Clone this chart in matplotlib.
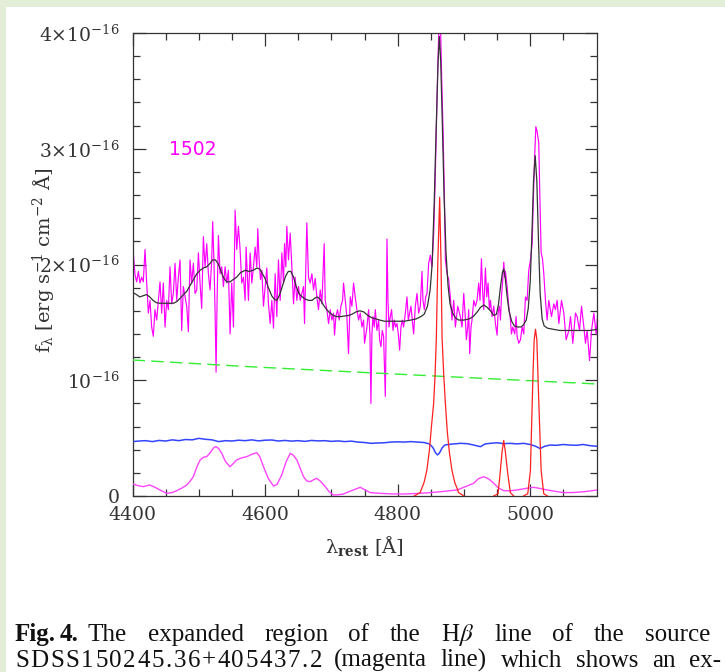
import numpy as np
import matplotlib
matplotlib.use('Agg')
import matplotlib.pyplot as plt

plt.rcParams['font.family'] = 'DejaVu Serif'
plt.rcParams['mathtext.fontset'] = 'dejavuserif'

# flux in units of 1e-16 erg/s/cm2/A
UNIT = 1e-16

# observed spectrum (magenta)
spec_wave = [4400.0, 4401.2, 4403.8, 4406.3, 4408.8, 4411.3, 4413.8, 4416.3, 4418.9, 4421.4,
             4423.9, 4426.4, 4428.9, 4431.4, 4433.9, 4436.5, 4439.0, 4441.5, 4444.0, 4446.5,
             4449.1, 4451.6, 4454.1, 4456.6, 4459.1, 4461.6, 4464.2, 4466.7, 4469.2, 4471.7,
             4474.2, 4476.7, 4479.3, 4481.8, 4484.3, 4486.8, 4489.3, 4491.8, 4494.4, 4496.9,
             4499.4, 4501.9, 4504.4, 4506.9, 4509.5, 4512.0, 4514.5, 4517.0, 4519.5, 4521.0,
             4523.1, 4524.6, 4526.1, 4527.6, 4529.6, 4532.1, 4534.6, 4537.2, 4539.7, 4542.2,
             4544.7, 4547.2, 4549.7, 4552.3, 4554.8, 4557.3, 4559.8, 4562.3, 4564.8, 4567.4,
             4569.9, 4571.4, 4574.9, 4577.5, 4580.0, 4582.5, 4585.0, 4587.5, 4589.0, 4591.0,
             4593.1, 4595.1, 4597.6, 4600.1, 4602.6, 4605.1, 4607.7, 4610.2, 4612.7, 4615.2,
             4617.7, 4620.2, 4622.8, 4625.3, 4627.8, 4629.3, 4631.3, 4632.8, 4635.3, 4637.9,
             4640.4, 4642.9, 4645.4, 4647.9, 4650.4, 4653.0, 4655.5, 4658.0, 4659.5, 4661.5,
             4663.0, 4665.5, 4668.1, 4670.6, 4673.1, 4675.6, 4678.1, 4680.6, 4683.2, 4685.7,
             4689.2, 4690.7, 4693.2, 4695.8, 4698.3, 4700.8, 4703.3, 4704.8, 4706.8, 4709.3,
             4711.9, 4714.4, 4716.9, 4718.4, 4720.9, 4723.4, 4725.9, 4728.5, 4731.0, 4733.5,
             4736.0, 4738.5, 4741.1, 4743.6, 4746.1, 4748.6, 4750.1, 4753.7, 4756.2, 4758.2,
             4759.7, 4761.2, 4762.7, 4764.7, 4766.3, 4768.8, 4771.3, 4772.8, 4774.8, 4776.8,
             4778.8, 4781.4, 4782.9, 4783.9, 4785.4, 4786.9, 4788.9, 4790.9, 4793.0, 4795.0,
             4797.0, 4799.0, 4801.0, 4803.0, 4805.0, 4807.0, 4809.0, 4811.6, 4814.1, 4816.1,
             4818.1, 4820.1, 4822.1, 4824.1, 4826.7, 4829.2, 4831.7, 4834.2, 4836.7, 4838.2,
             4840.3, 4842.3, 4844.3, 4846.8, 4849.3, 4851.8, 4854.4, 4856.5, 4858.4, 4860.5,
             4862.5, 4864.5, 4866.5, 4868.5, 4870.5, 4872.0, 4874.5, 4877.0, 4879.5, 4882.0,
             4884.6, 4887.1, 4890.6, 4894.6, 4897.1, 4899.7, 4901.7, 4903.7, 4905.7, 4907.2,
             4908.7, 4910.7, 4912.2, 4914.8, 4917.3, 4919.8, 4922.3, 4924.3, 4926.4, 4928.4,
             4929.9, 4932.4, 4934.4, 4936.4, 4938.4, 4939.9, 4942.5, 4945.0, 4947.5, 4950.0,
             4951.5, 4953.5, 4955.1, 4956.6, 4958.6, 4960.1, 4961.6, 4962.6, 4965.1, 4967.6,
             4970.2, 4971.7, 4973.7, 4976.7, 4978.7, 4980.2, 4982.7, 4985.3, 4987.8, 4990.3,
             4992.8, 4995.3, 4997.8, 5000.4, 5002.9, 5004.4, 5006.5, 5008.5, 5010.4, 5012.9,
             5014.5, 5016.5, 5018.5, 5020.5, 5023.0, 5025.5, 5028.0, 5032.1, 5035.6, 5038.1,
             5040.6, 5043.2, 5047.2, 5050.7, 5054.2, 5058.3, 5060.8, 5064.3, 5068.3, 5070.8,
             5074.4, 5077.4, 5080.9, 5083.4, 5085.9, 5089.5, 5092.5, 5096.0, 5099.5, 5101.5]
spec_flux = [1.98, 2.10, 1.91, 1.85, 1.94, 1.84, 1.89, 1.85, 2.13, 1.84,
             1.58, 1.69, 1.46, 1.38, 1.61, 1.52, 1.69, 1.85, 1.58, 1.84,
             1.46, 1.69, 1.61, 1.98, 1.66, 1.75, 2.01, 1.69, 1.89, 2.04,
             1.43, 1.81, 1.72, 1.64, 1.42, 2.04, 1.84, 2.01, 1.75, 1.78,
             2.10, 1.84, 1.62, 2.24, 1.98, 2.18, 1.92, 1.78, 2.04, 2.37,
             1.98, 1.58, 1.07, 1.69, 2.25, 1.92, 1.98, 1.81, 1.98, 1.84,
             1.95, 1.40, 1.84, 1.46, 2.47, 2.13, 2.33, 2.13, 1.84, 1.89,
             1.69, 2.15, 1.69, 2.10, 1.84, 1.98, 2.15, 1.98, 2.31, 2.04,
             1.87, 1.95, 1.64, 1.81, 1.97, 1.66, 1.49, 1.69, 1.45, 1.92,
             1.55, 2.04, 1.69, 2.10, 1.84, 2.18, 1.98, 2.33, 2.04, 2.27,
             1.98, 1.66, 1.89, 1.69, 1.81, 1.69, 1.75, 1.81, 1.49, 1.98,
             2.36, 1.89, 1.84, 1.92, 1.78, 1.88, 1.72, 1.61, 1.78, 1.66,
             2.18, 1.69, 1.61, 1.49, 1.61, 1.52, 1.58, 1.39, 1.55, 1.61,
             1.52, 1.64, 1.69, 1.84, 1.69, 1.55, 1.23, 1.72, 1.64, 1.84,
             1.72, 1.61, 1.52, 1.58, 1.46, 1.52, 1.32, 1.46, 1.61, 1.40,
             0.80, 1.40, 1.55, 1.46, 1.61, 1.43, 1.52, 1.35, 1.29, 1.43,
             1.38, 0.86, 1.55, 2.22, 1.69, 1.46, 1.55, 1.61, 1.43, 1.52,
             1.46, 1.49, 1.40, 1.26, 1.46, 1.52, 1.46, 1.58, 1.72, 1.52,
             1.58, 1.64, 1.52, 1.40, 1.64, 1.75, 1.58, 1.64, 1.94, 1.69,
             1.61, 1.72, 1.75, 2.01, 2.08, 1.98, 2.27, 2.70, 3.16, 3.70,
             4.10, 4.10, 3.60, 3.16, 2.60, 2.04, 1.92, 1.87, 1.72, 1.52,
             1.69, 1.46, 1.64, 1.55, 1.46, 1.75, 1.58, 1.35, 1.46, 1.61,
             1.23, 1.46, 1.52, 1.69, 1.64, 1.69, 1.84, 1.69, 2.05, 1.75,
             1.61, 1.97, 1.72, 1.84, 1.61, 1.69, 1.55, 1.64, 1.49, 1.39,
             1.58, 1.64, 1.52, 1.72, 1.87, 2.02, 1.89, 1.94, 1.81, 1.64,
             1.52, 1.40, 1.46, 1.40, 1.55, 1.38, 1.32, 1.35, 1.46, 1.40,
             1.72, 1.69, 1.95, 2.04, 2.18, 2.50, 2.90, 3.19, 3.15, 3.05,
             2.60, 2.10, 2.05, 1.92, 1.69, 1.52, 1.69, 1.55, 1.66, 1.61,
             1.69, 1.49, 1.69, 1.58, 1.35, 1.43, 1.55, 1.32, 1.58, 1.55,
             1.43, 1.64, 1.46, 1.32, 1.43, 1.17, 1.43, 1.58, 1.40, 1.55]

# total model fit (black)
fit_wave = [4400, 4406, 4411, 4416, 4421, 4426, 4431, 4436, 4441, 4446, 4452, 4457, 4462, 4467,
            4472, 4477, 4482, 4487, 4492, 4497, 4502, 4507, 4512, 4517, 4521, 4525, 4529, 4533,
            4537, 4542, 4547, 4552, 4557, 4563, 4570, 4576, 4582, 4588, 4592, 4596, 4600, 4605,
            4610, 4614, 4618, 4622, 4627, 4631, 4635, 4639, 4643, 4647, 4651, 4656, 4661, 4666,
            4671, 4675, 4679, 4683, 4688, 4693, 4698, 4703, 4708, 4714, 4720, 4726, 4731, 4737,
            4743, 4749, 4755, 4761, 4767, 4773, 4780, 4790, 4800, 4810, 4820, 4828, 4835, 4840,
            4845, 4849, 4852, 4855, 4858, 4861, 4863, 4865, 4867.5, 4870, 4873, 4876, 4879, 4883,
            4887, 4892, 4900, 4908, 4914, 4920, 4925, 4930, 4935, 4940, 4945, 4949, 4952, 4955,
            4958, 4960, 4962, 4965, 4968, 4972, 4976, 4981, 4986, 4990, 4994, 4997, 5000, 5002.5,
            5005, 5007.5, 5010, 5012.5, 5015, 5018, 5021, 5026, 5035, 5045, 5060, 5075, 5090, 5101]
fit_flux = [1.76, 1.74, 1.72, 1.73, 1.74, 1.72, 1.69, 1.67, 1.665, 1.665, 1.665, 1.665, 1.665, 1.68,
            1.71, 1.74, 1.77, 1.82, 1.87, 1.92, 1.95, 1.97, 1.98, 2.01, 2.04, 2.04, 2.01, 1.95,
            1.89, 1.85, 1.85, 1.87, 1.89, 1.93, 1.95, 1.94, 1.95, 1.97, 1.96, 1.92, 1.88, 1.80,
            1.73, 1.70, 1.69, 1.74, 1.83, 1.90, 1.94, 1.94, 1.89, 1.81, 1.75, 1.72, 1.70, 1.69,
            1.69, 1.71, 1.72, 1.70, 1.65, 1.61, 1.58, 1.56, 1.55, 1.55, 1.555, 1.56, 1.57, 1.59,
            1.60, 1.59, 1.56, 1.54, 1.53, 1.52, 1.51, 1.51, 1.51, 1.51, 1.52, 1.53, 1.55, 1.57,
            1.64, 1.78, 2.00, 2.50, 3.15, 3.75, 3.97, 3.75, 3.20, 2.60, 2.10, 1.82, 1.66, 1.58,
            1.54, 1.52, 1.52, 1.53, 1.55, 1.59, 1.63, 1.65, 1.63, 1.60, 1.56, 1.57, 1.65, 1.80,
            1.93, 1.96, 1.90, 1.73, 1.60, 1.51, 1.47, 1.46, 1.46, 1.48, 1.52, 1.62, 1.85, 2.25,
            2.72, 2.94, 2.72, 2.20, 1.75, 1.53, 1.47, 1.45, 1.44, 1.43, 1.43, 1.43, 1.43, 1.44]

# power-law continuum (green dashed)
cont_wave = [4400, 4577, 4774, 5100]
cont_flux = [1.175, 1.117, 1.06, 0.968]

# host / stellar component (blue)
host_wave = [4400, 4410, 4420, 4430, 4440, 4450, 4460, 4470, 4480, 4490, 4500, 4510, 4520, 4530,
             4540, 4550, 4560, 4570, 4580, 4590, 4600, 4610, 4620, 4630, 4640, 4650, 4660, 4670,
             4680, 4690, 4700, 4710, 4720, 4730, 4740, 4750, 4760, 4770, 4780, 4790, 4800, 4810,
             4820, 4830, 4840, 4848, 4853, 4857, 4860, 4863, 4867, 4871, 4876, 4885, 4895, 4905,
             4915, 4925, 4932, 4940, 4950, 4960, 4970, 4980, 4990, 5000, 5008, 5015, 5022, 5030,
             5040, 5050, 5060, 5070, 5080, 5090, 5100]
host_flux = [0.47, 0.475, 0.478, 0.47, 0.48, 0.475, 0.485, 0.478, 0.488, 0.485, 0.498, 0.49, 0.485, 0.47,
             0.478, 0.475, 0.482, 0.478, 0.485, 0.476, 0.482, 0.484, 0.475, 0.48, 0.474, 0.478, 0.472, 0.48,
             0.476, 0.478, 0.472, 0.476, 0.47, 0.474, 0.466, 0.462, 0.455, 0.458, 0.46, 0.466, 0.468, 0.466,
             0.47, 0.466, 0.462, 0.45, 0.42, 0.375, 0.355, 0.37, 0.415, 0.44, 0.445, 0.45, 0.455, 0.452,
             0.44, 0.426, 0.45, 0.455, 0.46, 0.452, 0.455, 0.45, 0.455, 0.445, 0.43, 0.41, 0.43, 0.44,
             0.438, 0.445, 0.44, 0.438, 0.445, 0.435, 0.43]

# Fe II template (magenta, bottom)
fe_wave = [4400, 4408, 4416, 4426, 4434, 4441.5, 4451.6, 4460, 4466.7, 4475, 4481.8, 4486, 4491.8, 4497,
           4502, 4507, 4512, 4518, 4523, 4526, 4530, 4534.7, 4540, 4547, 4552, 4557, 4565, 4572.5,
           4580, 4587.6, 4592, 4597.6, 4605, 4612.7, 4618, 4625, 4632, 4638, 4643, 4648, 4653, 4658,
           4663, 4668, 4673, 4678, 4684, 4690.7, 4697, 4703, 4710, 4718, 4730, 4743.6, 4750, 4758.7,
           4773.8, 4790, 4809, 4830, 4849, 4870, 4889.6, 4902, 4914.7, 4922, 4930, 4938, 4945, 4952,
           4960, 4970, 4980, 4993, 5005, 5015, 5025.5, 5038, 5050.6, 5065, 5081, 5101]
fe_flux = [0.105, 0.09, 0.081, 0.095, 0.075, 0.052, 0.023, 0.03, 0.046, 0.07, 0.095, 0.12, 0.167, 0.25,
           0.311, 0.335, 0.34, 0.38, 0.42, 0.426, 0.41, 0.369, 0.30, 0.253, 0.28, 0.311, 0.33, 0.34,
           0.36, 0.374, 0.34, 0.253, 0.15, 0.086, 0.10, 0.18, 0.30, 0.369, 0.35, 0.311, 0.24, 0.167,
           0.13, 0.124, 0.14, 0.153, 0.125, 0.081, 0.035, 0.009, 0.01, 0.017, 0.045, 0.075, 0.055, 0.029,
           0.023, 0.018, 0.017, 0.022, 0.029, 0.04, 0.052, 0.08, 0.11, 0.15, 0.167, 0.145, 0.11, 0.07,
           0.046, 0.045, 0.052, 0.065, 0.075, 0.065, 0.052, 0.04, 0.029, 0.03, 0.037, 0.052]

# emission line components (red)
hb_wave = [4825, 4834, 4840, 4844, 4848, 4851, 4854.3, 4856.5, 4858.4, 4860.5, 4863.4, 4865.5,
           4867, 4869.5, 4872, 4875, 4878, 4882, 4886, 4892, 4900]
hb_flux = [0.0, 0.03, 0.12, 0.22, 0.40, 0.60, 0.80, 1.05, 1.37, 2.0, 2.58, 2.0,
           1.37, 1.05, 0.80, 0.55, 0.38, 0.22, 0.12, 0.03, 0.0]
o3a_wave = [4945, 4951.5, 4955, 4957.5, 4960, 4962.5, 4966, 4970, 4975]
o3a_flux = [0.0, 0.02, 0.22, 0.38, 0.48, 0.38, 0.20, 0.03, 0.0]
o3b_wave = [4990, 4996.3, 5000.3, 5003, 5004.4, 5006, 5008, 5010, 5011.4, 5013, 5016.5, 5020.4, 5026]
o3b_flux = [0.0, 0.02, 0.22, 0.80, 1.09, 1.35, 1.44, 1.35, 1.09, 0.80, 0.22, 0.02, 0.0]

# caption words, two justified lines
cap_line1 = ['The', 'expanded', 'region', 'of', 'the', 'H$\\beta$', 'line', 'of', 'the', 'source']
cap_name = 'SDSS150245.36+405437.2'
cap_line2 = ['(magenta', 'line)', 'which', 'shows', 'an', 'ex-']


def scaled(vals):
    return np.array(vals) * UNIT


fig = plt.figure(figsize=(7.25, 6.72), dpi=100)
fig.patch.set_facecolor('white')

# light green page frame at top and left
fig.patches.append(plt.Rectangle((0, 1 - 7 / 672), 1, 7 / 672, transform=fig.transFigure,
                                 facecolor='#e2eed8', edgecolor='none'))
fig.patches.append(plt.Rectangle((0, 0), 5.5 / 725, 1, transform=fig.transFigure,
                                 facecolor='#e2eed8', edgecolor='none'))

ax = fig.add_axes([132.5 / 725, 1 - 496 / 672, 464 / 725, 463 / 672])

ax.plot(spec_wave, scaled(spec_flux), color='#ff00ff', lw=0.85, zorder=2)
ax.plot(fit_wave, scaled(fit_flux), color='#333333', lw=0.9, zorder=3)
cl, = ax.plot(cont_wave, scaled(cont_flux), color='#33ee33', lw=1.0, zorder=3)
cl.set_dashes([9, 4.5])
ax.plot(host_wave, scaled(host_flux), color='#3344ff', lw=1.1, zorder=3)
ax.plot(fe_wave, scaled(fe_flux), color='#ff44ff', lw=1.0, zorder=3)
for w, f in [(hb_wave, hb_flux), (o3a_wave, o3a_flux), (o3b_wave, o3b_flux)]:
    ax.plot(w, scaled(f), color='#ff2020', lw=0.9, zorder=4)

ax.set_xlim(4400, 5100)
ax.set_ylim(0, 4e-16)

ax.set_xticks([4400, 4600, 4800, 5000])
ax.set_xticks(np.arange(4450, 5100, 50), minor=True)
ax.set_yticks(np.arange(5) * UNIT)
ax.set_yticklabels(['0', r'$10^{-16}$', r'$2{\times}10^{-16}$', r'$3{\times}10^{-16}$',
                    r'$4{\times}10^{-16}$'])
ax.set_yticks(np.arange(0, 4.01, 0.2) * UNIT, minor=True)

ax.tick_params(which='both', direction='in', top=True, right=True, color='#333333',
               labelsize=13.5, labelcolor='#333333')
ax.tick_params(which='major', length=9, width=0.9)
ax.tick_params(which='minor', length=5, width=0.9)
ax.tick_params(axis='x', pad=7)
ax.tick_params(axis='y', pad=9)
for s in ax.spines.values():
    s.set_color('#333333')
    s.set_linewidth(0.9)

ax.text(4455, 2.99e-16, '1502', color='#ff00ff', fontsize=13.5, family='DejaVu Sans',
        ha='left', va='center')

fig.text(44 / 725, 1 - 260 / 672, r'f$_\mathrm{λ}$ [erg s$^{-1}$ cm$^{-2}$ Å]', rotation=90,
         ha='center', va='center', fontsize=14, color='#333333')
fig.text(364.5 / 725, 1 - 546 / 672, r'λ$_{\mathbf{rest}}$ [Å]', ha='center', va='center',
         fontsize=14, color='#333333')

# caption, justified between the page margins
cap = dict(family='Liberation Serif', fontsize=18, va='baseline', color='#111111')
plt.rcParams['mathtext.fontset'] = 'stix'
renderer = fig.canvas.get_renderer()


def spread(items, x0, x1):
    widths = [t.get_window_extent(renderer).width for t in items]
    gap = (x1 - x0 - sum(widths)) / (len(items) - 1)
    x = x0
    for t, wd in zip(items, widths):
        t.set_x(x / 725)
        x += wd + gap


y1 = 1 - 641 / 672
y2 = 1 - 667 / 672
fig_lbl = fig.text(0, y1, 'Fig.', fontweight='bold', **cap)
num_lbl = fig.text(0, y1, '4.', fontweight='bold', **cap)
spread([fig_lbl, num_lbl], 15, 78)
spread([fig.text(0, y1, w, **cap) for w in cap_line1], 88, 710)

# long source name slightly letter-spaced, rest of line 2 justified
spread([fig.text(0, y2, ch, **cap) for ch in cap_name], 15, 322)
spread([fig.text(0, y2, w, **cap) for w in cap_line2], 334, 721)

fig.savefig('out.png', dpi=100)
